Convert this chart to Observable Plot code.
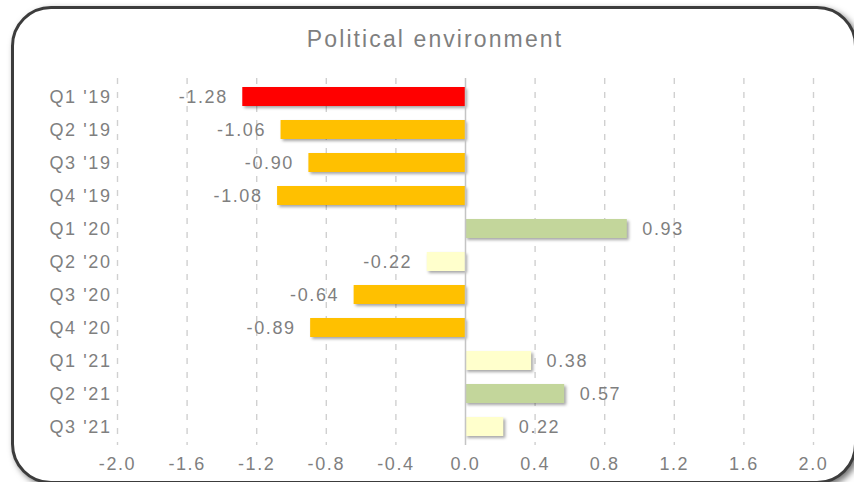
<!DOCTYPE html>
<html>
<head>
<meta charset="utf-8">
<script src="https://cdn.jsdelivr.net/npm/d3@7"></script>
<script src="https://cdn.jsdelivr.net/npm/@observablehq/plot@0.6"></script>
<style>
  html, body { margin: 0; padding: 0; background: #fff; width: 854px; height: 482px; overflow: hidden; }
  #frame {
    position: absolute; left: 11px; top: 6px; width: 840px; height: 472px;
    border: 3px solid #3c3c3c; border-radius: 40px;
    box-shadow: 3px 3px 6px rgba(0,0,0,0.55);
    background: #fff;
  }
  #title {
    position: absolute; top: 26px; left: 0; width: 870px; text-align: center;
    font-family: "Liberation Sans", Arial, sans-serif; font-size: 23px;
    letter-spacing: 2.1px; color: #7f7f7f;
  }
  #chart { position: absolute; left: 0; top: 0; }
</style>
</head>
<body>
<div id="frame"></div>
<div id="title">Political environment</div>
<div id="chart"></div>
<script>
// Quarterly scores for the political environment indicator
const quarters = ["Q1 '19", "Q2 '19", "Q3 '19", "Q4 '19", "Q1 '20", "Q2 '20", "Q3 '20", "Q4 '20", "Q1 '21", "Q2 '21", "Q3 '21"];
const values = [-1.28, -1.06, -0.90, -1.08, 0.93, -0.22, -0.64, -0.89, 0.38, 0.57, 0.22];
const ratings = ["severe", "negative", "negative", "negative", "positive", "neutral", "negative", "negative", "neutral", "positive", "neutral"];
const xTicks = [-2.0, -1.6, -1.2, -0.8, -0.4, 0.0, 0.4, 0.8, 1.2, 1.6, 2.0];

const data = quarters.map((q, i) => ({quarter: q, value: values[i], rating: ratings[i]}));

const chart = Plot.plot({
  width: 854,
  height: 482,
  marginTop: 78,
  marginBottom: 37,
  marginLeft: 117,
  marginRight: 41,
  style: {
    fontFamily: "'Liberation Sans', Arial, sans-serif",
    fontSize: "18px",
    letterSpacing: "1.6px",
    color: "#7f7f7f",
    background: "transparent",
    overflow: "visible"
  },
  x: {domain: [-2, 2], ticks: xTicks, tickFormat: d => d.toFixed(1), tickSize: 0, tickPadding: 12, label: null},
  y: {domain: quarters, paddingInner: 0.43, paddingOuter: 0.215, tickSize: 0, tickPadding: 6, label: null},
  color: {domain: ["severe", "negative", "neutral", "positive"], range: ["#ff0000", "#ffc000", "#ffffcc", "#c3d69b"]},
  marks: [
    // dashed vertical grid behind the bars
    Plot.ruleX(xTicks.filter(t => t !== 0), {stroke: "#d0d0d0", strokeWidth: 1.4, strokeDasharray: "6,8"}),
    Plot.barX(data, {x: "value", y: "quarter", fill: "rating"}),
    Plot.ruleX([0], {stroke: "#c4c4c4", strokeWidth: 1.5}),
    Plot.text(data, {filter: d => d.value < 0, x: "value", y: "quarter", text: d => d.value.toFixed(2), textAnchor: "end", dx: -15, fill: "#7f7f7f"}),
    Plot.text(data, {filter: d => d.value >= 0, x: "value", y: "quarter", text: d => d.value.toFixed(2), textAnchor: "start", dx: 15, fill: "#7f7f7f"})
  ]
});

// Soft drop shadow beneath each bar
d3.select(chart).selectAll("g[aria-label='bar'] rect")
  .style("filter", "drop-shadow(2px 2px 1.5px rgba(0,0,0,0.35))");

document.getElementById("chart").appendChild(chart);
</script>
</body>
</html>
